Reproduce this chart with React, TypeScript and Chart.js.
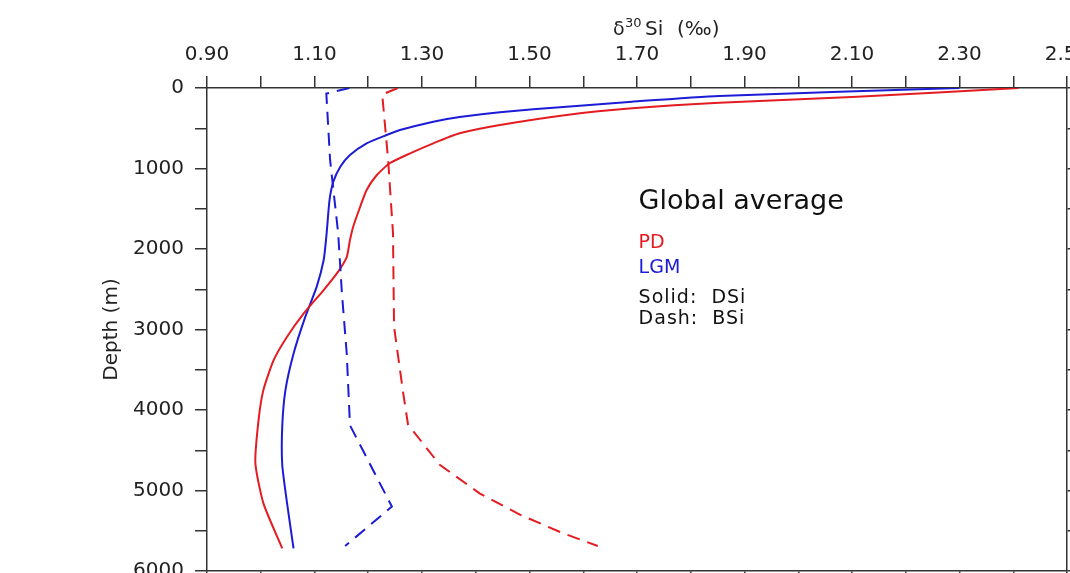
import React, { useEffect, useRef } from 'react';
import { Chart, registerables } from 'chart.js';

Chart.register(...registerables);

// ---------- data ----------
const pdDSiDepth = [0, 110, 182, 252, 335, 460, 563, 687, 811, 935, 1081, 1267, 1475, 1723, 1888, 2100, 2300, 2510, 2800, 3090, 3380, 3750, 4120, 4660, 5160, 5720];
const pdDSiValue = [2.41, 2.11, 1.853, 1.691, 1.569, 1.445, 1.37, 1.321, 1.278, 1.24, 1.216, 1.197, 1.185, 1.172, 1.166, 1.16, 1.142, 1.117, 1.08, 1.049, 1.024, 1.005, 0.996, 0.99, 1.005, 1.04];

const lgmDSiDepth = [0, 99, 170, 232, 300, 360, 418, 522, 584, 687, 832, 978, 1164, 1391, 1847, 2140, 2470, 2840, 3300, 3750, 4200, 4680, 5160, 5720];
const lgmDSiValue = [2.30, 1.853, 1.691, 1.569, 1.445, 1.37, 1.321, 1.259, 1.234, 1.197, 1.166, 1.148, 1.135, 1.128, 1.122, 1.117, 1.104, 1.083, 1.061, 1.046, 1.04, 1.04, 1.049, 1.061];

const pdBSiDepth = [0, 80, 894, 1800, 2965, 3790, 4180, 4680, 5035, 5300, 5530, 5690];
const pdBSiValue = [1.255, 1.226, 1.237, 1.246, 1.248, 1.265, 1.274, 1.333, 1.407, 1.482, 1.562, 1.627];

const lgmBSiDepth = [0, 70, 894, 1800, 2550, 3300, 4190, 5200, 5690];
const lgmBSiValue = [1.165, 1.122, 1.129, 1.144, 1.151, 1.16, 1.166, 1.244, 1.157];

const xMin = 0.9;
const xMax = 2.5;
const xStep = 0.1;
const depthMin = 0;
const depthMax = 6000;
const depthStep = 500;

const annotationTexts = ['Global average', 'PD', 'LGM', 'Solid:  DSi', 'Dash:  BSi'];
const annotationDepths = [1411, 1929, 2232, 2609, 2876];
const annotationX = 1.703;

// ---------- style ----------
const RED = 'rgb(228,28,34)';
const BLUE = 'rgb(28,28,214)';
const AXIS = '#333333';
const FONT = '"DejaVu Sans", sans-serif';

const CANVAS_W = 1110;
const CANVAS_H = 640;
const AREA_LEFT = 207;
const AREA_TOP = 88;
const AREA_RIGHT = 1067;
const AREA_BOTTOM = 571;

function pts(depths: number[], values: number[]) {
  return depths.map((d, i) => ({ x: values[i], y: d }));
}

const textPlugin = {
  id: 'figureTexts',
  afterDraw(chart: any) {
    const { ctx, chartArea, scales } = chart;
    ctx.save();
    ctx.fillStyle = '#222';
    // top axis title: δ30Si (‰)
    const tx = (chartArea.left + chartArea.right) / 2 - 24;
    ctx.textBaseline = 'alphabetic';
    ctx.textAlign = 'left';
    ctx.font = `19px ${FONT}`;
    ctx.fillText('δ', tx, 35);
    ctx.font = `13px ${FONT}`;
    ctx.fillText('30', tx + 12, 27);
    ctx.font = `20px ${FONT}`;
    ctx.fillText('Si', tx + 32, 35);
    ctx.fillText('(‰)', tx + 64, 35);

    // left axis title
    ctx.save();
    ctx.translate(112, (chartArea.top + chartArea.bottom) / 2);
    ctx.rotate(-Math.PI / 2);
    ctx.textAlign = 'center';
    ctx.textBaseline = 'middle';
    ctx.font = `20px ${FONT}`;
    ctx.fillText('Depth (m)', 0, 0);
    ctx.restore();

    // annotations
    const ax = scales.x.getPixelForValue(annotationX);
    ctx.textAlign = 'left';
    ctx.textBaseline = 'middle';
    annotationTexts.forEach((t, i) => {
      const ay = scales.y.getPixelForValue(annotationDepths[i]);
      (ctx as any).letterSpacing = '0px';
      if (i === 0) {
        ctx.font = `27px ${FONT}`;
        ctx.fillStyle = '#111';
      } else if (i === 1) {
        ctx.font = `19px ${FONT}`;
        ctx.fillStyle = RED;
      } else if (i === 2) {
        ctx.font = `19px ${FONT}`;
        ctx.fillStyle = BLUE;
      } else {
        ctx.font = `19px ${FONT}`;
        ctx.fillStyle = '#111';
        (ctx as any).letterSpacing = '1px';
      }
      ctx.fillText(t, ax, ay);
    });
    (ctx as any).letterSpacing = '0px';
    ctx.restore();
  },
};

const gridCfg = {
  display: true,
  drawOnChartArea: false,
  drawTicks: true,
  tickLength: 12,
  color: AXIS,
  lineWidth: 1.5,
};
const borderCfg = { display: true, color: AXIS, width: 1.5 };

export default function App() {
  const ref = useRef<HTMLCanvasElement | null>(null);

  useEffect(() => {
    document.body.style.margin = '0';
    const canvas = ref.current;
    if (!canvas) return;
    const lineBase = {
      borderWidth: 2,
      showLine: true,
      pointRadius: 0,
      tension: 0,
      xAxisID: 'x',
      yAxisID: 'y',
    };
    const chart = new Chart(canvas, {
      type: 'scatter',
      data: {
        datasets: [
          { ...lineBase, label: 'PD BSi', data: pts(pdBSiDepth, pdBSiValue), borderColor: RED, borderDash: [13, 8] },
          { ...lineBase, label: 'LGM BSi', data: pts(lgmBSiDepth, lgmBSiValue), borderColor: BLUE, borderDash: [13, 8] },
          { ...lineBase, label: 'PD DSi', data: pts(pdDSiDepth, pdDSiValue), borderColor: RED, tension: 0.2 },
          { ...lineBase, label: 'LGM DSi', data: pts(lgmDSiDepth, lgmDSiValue), borderColor: BLUE, tension: 0.2 },
        ],
      },
      options: {
        animation: false,
        responsive: false,
        maintainAspectRatio: false,
        layout: { padding: 0 },
        plugins: {
          legend: { display: false },
          title: { display: false },
          tooltip: { enabled: false },
        },
        scales: {
          x: {
            type: 'linear',
            position: 'top',
            min: xMin,
            max: xMax,
            grid: gridCfg,
            border: borderCfg,
            ticks: {
              stepSize: xStep,
              padding: 9,
              color: '#222',
              font: { family: FONT, size: 20 },
              maxRotation: 0,
              autoSkip: false,
              callback: (v: any) => {
                const k = Math.round((Number(v) - xMin) / xStep);
                return k % 2 === 0 ? Number(v).toFixed(2) : '';
              },
            },
            afterFit: (s: any) => {
              s.height = AREA_TOP;
            },
          },
          x2: {
            type: 'linear',
            position: 'bottom',
            min: xMin,
            max: xMax,
            grid: gridCfg,
            border: borderCfg,
            ticks: { stepSize: xStep, display: false, autoSkip: false },
            afterFit: (s: any) => {
              s.height = CANVAS_H - AREA_BOTTOM;
            },
          },
          y: {
            type: 'linear',
            position: 'left',
            reverse: true,
            min: depthMin,
            max: depthMax,
            grid: gridCfg,
            border: borderCfg,
            ticks: {
              stepSize: depthStep,
              padding: 11,
              color: '#222',
              font: { family: FONT, size: 20 },
              autoSkip: false,
              callback: (v: any) => (Number(v) % 1000 === 0 ? String(v) : ''),
            },
            afterFit: (s: any) => {
              s.width = AREA_LEFT;
            },
          },
          y2: {
            type: 'linear',
            position: 'right',
            reverse: true,
            min: depthMin,
            max: depthMax,
            grid: gridCfg,
            border: borderCfg,
            ticks: { stepSize: depthStep, display: false, autoSkip: false },
            afterFit: (s: any) => {
              s.width = CANVAS_W - AREA_RIGHT;
            },
          },
        },
      },
      plugins: [textPlugin],
    } as any);
    return () => chart.destroy();
  }, []);

  return (
    <div style={{ position: 'relative', width: 1070, height: 573, overflow: 'hidden', background: '#fff' }}>
      <canvas ref={ref} width={CANVAS_W} height={CANVAS_H} style={{ position: 'absolute', left: 0, top: 0 }} />
    </div>
  );
}
